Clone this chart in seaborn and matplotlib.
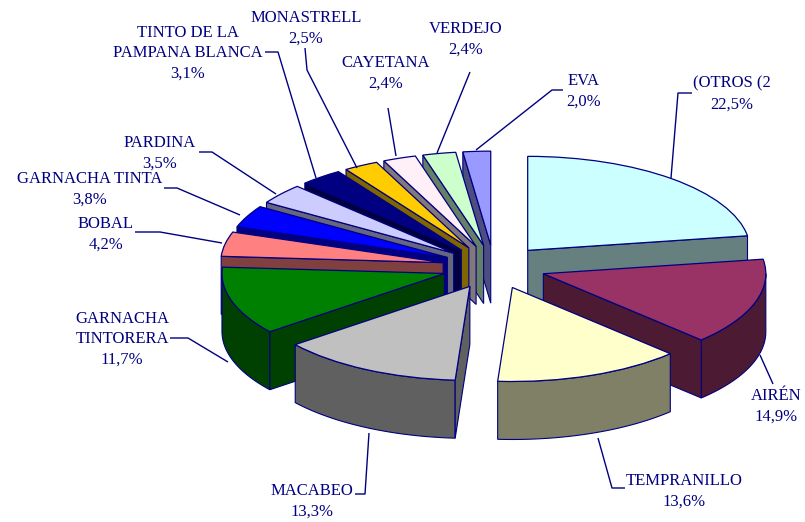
import numpy as np
import matplotlib
matplotlib.use("Agg")
import matplotlib.pyplot as plt
import seaborn as sns

names = ["(OTROS (2", "AIRÉN", "TEMPRANILLO", "MACABEO", "GARNACHA\nTINTORERA", "BOBAL",
         "GARNACHA TINTA", "PARDINA", "TINTO DE LA\nPAMPANA BLANCA", "MONASTRELL",
         "CAYETANA", "VERDEJO", "EVA"]
values = [22.5, 14.9, 13.6, 13.3, 11.7, 4.2, 3.8, 3.5, 3.1, 2.5, 2.4, 2.4, 2.0]
top_colors = ["#CCFFFF", "#993366", "#FFFFCC", "#C0C0C0", "#008000", "#FF8080", "#0000FF",
              "#CCCCFF", "#000080", "#FFCC00", "#FFF0F8", "#CCFFCC", "#9999FF"]
draw_order = [12, 11, 10, 9, 8, 7, 6, 5, 4, 3, 0, 1, 2]

label_xy = [(732, 94), (776, 406), (684, 491), (312, 501), (122, 339), (106, 234), (90, 189),
            (160, 153), (188, 53), (306, 28), (386, 73), (466, 39), (584, 91)]
leaders = [
    [(692, 93), (678, 93), (671, 178)],
    [(773, 384), (760, 355)],
    [(598, 438), (612, 488), (625, 488)],
    [(369, 433), (365, 494), (355, 494)],
    [(170, 338), (188, 338), (228, 362)],
    [(135, 232), (160, 232), (222, 243)],
    [(164, 188), (177, 188), (240, 215)],
    [(199, 152), (212, 152), (276, 194)],
    [(265, 52), (278, 52), (316, 178)],
    [(305, 48), (307, 70), (357, 168)],
    [(388, 108), (396, 156)],
    [(470, 72), (437, 153)],
    [(563, 90), (552, 90), (476, 150)],
]

W, H = 805, 522
CX, CY, RX, RY = 494, 267, 222.5, 94
DEPTH = 58 / RY
EXPLODE = 0.233
NAVY = "#000080"

sns.set_theme(style="white")
plt.rcParams["font.family"] = ["Liberation Serif", "DejaVu Serif"]
palette = sns.color_palette(top_colors)

fig = plt.figure(figsize=(W / 100, H / 100), dpi=100, facecolor="white")
ax = fig.add_axes([0, 0, 1, 1])
wedges, _ = ax.pie(values, colors=palette, startangle=90, counterclock=False,
                   explode=[EXPLODE] * len(values),
                   wedgeprops=dict(edgecolor=NAVY, linewidth=0.9))
ax.set_aspect("auto")
ax.set_xlim((0 - CX) / RX, (W - CX) / RX)
ax.set_ylim((CY - H) / RY, CY / RY)


def wall(xs, ys, color, z):
    xs = np.asarray(xs)
    ys = np.asarray(ys)
    ax.fill(np.r_[xs, xs[::-1]], np.r_[ys, ys[::-1] - DEPTH], facecolor=color,
            edgecolor=NAVY, linewidth=0.8, zorder=z)


for rank, i in enumerate(draw_order):
    w = wedges[i]
    cx, cy = w.center
    t1, t2 = sorted((w.theta1, w.theta2))
    dark = tuple(c * 0.5 for c in palette[i])
    z = 2 + rank * 2
    w.set_zorder(z + 1)
    # outer rim, only the part facing the viewer
    for k in (-360, 0):
        a, b = max(t1, 180 + k), min(t2, 360 + k)
        if b > a:
            th = np.radians(np.linspace(a, b, 60))
            wall(cx + np.cos(th), cy + np.sin(th), dark, z)
    # radial cut faces that look downward
    tm = np.radians((t1 + t2) / 2)
    mx, my = np.cos(tm), np.sin(tm)
    for t in (t1, t2):
        px, py = np.cos(np.radians(t)), np.sin(np.radians(t))
        if abs(px) < 1e-3:
            continue
        if my > py / px * mx:
            wall([cx, cx + px], [cy, cy + py], dark, z)

over = fig.add_axes([0, 0, 1, 1], facecolor="none")
over.set_xlim(0, W)
over.set_ylim(H, 0)
over.axis("off")
for name, v, (x, y), pts in zip(names, values, label_xy, leaders):
    pct = f"{v:.1f}".replace(".", ",") + "%"
    over.text(x, y, name + "\n" + pct, ha="center", va="center", multialignment="center",
              fontsize=12, color=NAVY, linespacing=1.36)
    px, py = zip(*pts)
    over.plot(px, py, color=NAVY, lw=1.0, solid_capstyle="butt")

fig.savefig("out.png", dpi=100, facecolor="white")
